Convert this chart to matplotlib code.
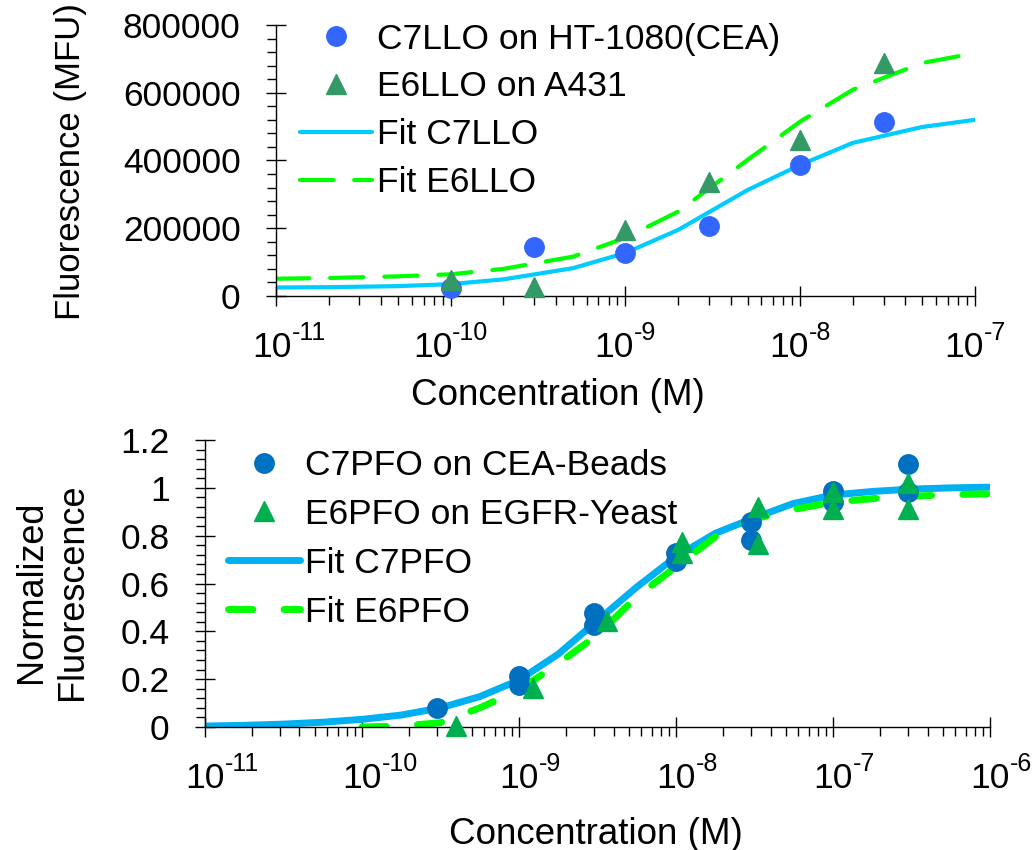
import matplotlib
matplotlib.use('Agg')
import matplotlib.pyplot as plt
from matplotlib.ticker import MultipleLocator, FuncFormatter, LogLocator, NullFormatter

plt.rcParams['font.family'] = ['Liberation Sans', 'DejaVu Sans']
plt.rcParams['axes.unicode_minus'] = False
plt.rcParams['font.size'] = 25.5

# ---- top panel data (LLO) ----
llo_conc = [1e-10, 3e-10, 1e-9, 3e-9, 1e-8, 3e-8]
c7llo_mfu = [24000, 145000, 127000, 207000, 387000, 514000]
e6llo_mfu = [47000, 26000, 195000, 337000, 461000, 689000]

llo_fit_conc = [1e-11, 2e-11, 5e-11, 1e-10, 2e-10, 5e-10, 1e-9, 2e-9, 5e-9,
                1e-8, 2e-8, 5e-8, 1e-7]
c7llo_fit = [25000, 26000, 29000, 35000, 49000, 82000, 127000, 195000, 313000,
             387000, 452000, 499000, 520000]
e6llo_fit = [51000, 53000, 58000, 64000, 80000, 116000, 172000, 249000, 402000,
             515000, 609000, 688000, 717000]

# ---- bottom panel data (PFO) ----
c7pfo_conc = [3e-10, 1e-9, 1e-9, 3e-9, 3e-9, 1e-8, 1e-8, 3e-8, 3e-8, 1e-7, 1e-7, 3e-7, 3e-7]
c7pfo_norm = [0.078, 0.215, 0.175, 0.476, 0.428, 0.728, 0.695, 0.858, 0.780, 0.985, 0.940, 1.100, 0.981]
e6pfo_conc = [4e-10, 1.23e-9, 3.66e-9, 1.1e-8, 1.1e-8, 3.33e-8, 3.33e-8, 1e-7, 1e-7, 3e-7, 3e-7]
e6pfo_norm = [0.006, 0.162, 0.444, 0.775, 0.726, 0.920, 0.765, 0.982, 0.911, 1.020, 0.910]

c7pfo_fit_conc = [1e-11, 1.78e-11, 3.16e-11, 5.62e-11, 1e-10, 1.78e-10, 3.16e-10, 5.62e-10,
                  1e-9, 1.78e-9, 3.16e-9, 5.62e-9, 1e-8, 1.78e-8, 3.16e-8, 5.62e-8,
                  1e-7, 1.78e-7, 3.16e-7, 5.62e-7, 1e-6]
c7pfo_fit = [0.004, 0.007, 0.012, 0.020, 0.032, 0.050, 0.080, 0.127,
             0.196, 0.305, 0.445, 0.585, 0.712, 0.810, 0.875, 0.935,
             0.970, 0.985, 0.995, 1.000, 1.003]
e6pfo_fit_conc = [1e-10, 1.78e-10, 3.16e-10, 5.62e-10, 1e-9, 1.78e-9, 3.16e-9, 5.62e-9,
                  1e-8, 1.78e-8, 3.16e-8, 5.62e-8, 1e-7, 1.78e-7, 3.16e-7, 5.62e-7, 1e-6]
e6pfo_fit = [0.000, 0.004, 0.018, 0.080, 0.155, 0.265, 0.385, 0.545,
             0.670, 0.795, 0.870, 0.910, 0.940, 0.955, 0.965, 0.972, 0.975]

# decade tick labels (exponents)
top_exps = [-11, -10, -9, -8, -7]
bottom_exps = [-11, -10, -9, -8, -7, -6]


def style_axis(ax):
    ax.spines['top'].set_visible(False)
    ax.spines['right'].set_visible(False)
    ax.spines['left'].set_linewidth(1)
    ax.spines['bottom'].set_linewidth(1)
    ax.tick_params(which='major', direction='inout', length=15, width=1)
    ax.tick_params(which='minor', direction='out', length=6.5, width=1)
    ax.tick_params(axis='y', which='major', pad=18)
    ax.xaxis.set_minor_locator(LogLocator(base=10, subs=range(2, 10), numticks=20))
    ax.xaxis.set_minor_formatter(NullFormatter())
    ax.xaxis.set_major_formatter(NullFormatter())


def decade_labels(ax, exps, center_whole, first_shift=0):
    # "10" with a raised exponent, drawn as two texts like the original
    ren = fig.canvas.get_renderer()
    trans = ax.get_xaxis_transform()
    for i, e in enumerate(exps):
        base = ax.annotate('10', xy=(10.0 ** e, 0), xycoords=trans, xytext=(0, -61),
                           textcoords='offset pixels', ha='center', va='baseline',
                           fontsize=25.5, annotation_clip=False)
        sup = ax.annotate(f'{e}', xy=(10.0 ** e, 0), xycoords=trans, xytext=(0, -44),
                          textcoords='offset pixels', ha='left', va='baseline',
                          fontsize=18, annotation_clip=False)
        w1 = base.get_window_extent(ren).width
        w2 = sup.get_window_extent(ren).width
        shift = -w2 / 2 if center_whole else 0
        if i == 0:
            shift += first_shift
        base.xyann = (shift, -61)
        sup.xyann = (shift + w1 / 2, -44)


fig = plt.figure(figsize=(10.32, 8.5), dpi=100)

# top panel
ax1 = fig.add_axes([0.2674, 0.6518, 0.6774, 0.3188])
ax1.plot(llo_fit_conc, c7llo_fit, color='#00ccff', lw=3, label='Fit C7LLO',
         solid_capstyle='round', zorder=2)
ax1.plot(llo_fit_conc, e6llo_fit, color='#00ff00', lw=3, dashes=(8, 5),
         dash_capstyle='round', label='Fit E6LLO', zorder=2)
ax1.plot(llo_conc, c7llo_mfu, 'o', color='#3366ff', ms=14, ls='none',
         label='C7LLO on HT-1080(CEA)', clip_on=False, zorder=3)
ax1.plot(llo_conc, e6llo_mfu, '^', color='#339966', ms=14, ls='none',
         label='E6LLO on A431', clip_on=False, zorder=3)
ax1.set_xscale('log')
ax1.set_xlim(1e-11, 1e-7)
ax1.set_ylim(0, 800000)
ax1.yaxis.set_major_locator(MultipleLocator(200000))
ax1.yaxis.set_minor_locator(MultipleLocator(40000))
style_axis(ax1)
ax1.set_xlabel('Concentration (M)', fontsize=26.5)
ax1.xaxis.set_label_coords(0.4027, -0.3026)
ax1.set_ylabel('Fluorescence (MFU)', fontsize=25)
ax1.yaxis.set_label_coords(-0.2704, 0.495)
h, l = ax1.get_legend_handles_labels()
order = [2, 3, 0, 1]
ax1.legend([h[i] for i in order], [l[i] for i in order], loc='upper left',
           bbox_to_anchor=(0.034, 1.009), frameon=False, borderpad=0,
           borderaxespad=0, handlelength=2.03, handletextpad=0.15,
           labelspacing=0.42, numpoints=1)

# bottom panel
ax2 = fig.add_axes([0.1986, 0.1447, 0.7607, 0.3376])
ax2.plot(c7pfo_fit_conc, c7pfo_fit, color='#00b0f0', lw=5, label='Fit C7PFO',
         solid_capstyle='round', zorder=2)
ax2.plot(e6pfo_fit_conc, e6pfo_fit, color='#00ff00', lw=5, dashes=(3.5, 4.5),
         dash_capstyle='round', label='Fit E6PFO', zorder=2)
ax2.plot(c7pfo_conc, c7pfo_norm, 'o', color='#0070c0', ms=14, ls='none',
         label='C7PFO on CEA-Beads', clip_on=False, zorder=3)
ax2.plot(e6pfo_conc, e6pfo_norm, '^', color='#00b050', ms=14, ls='none',
         label='E6PFO on EGFR-Yeast', clip_on=False, zorder=3)
ax2.set_xscale('log')
ax2.set_xlim(1e-11, 1e-6)
ax2.set_ylim(0, 1.2)
ax2.yaxis.set_major_locator(MultipleLocator(0.2))
ax2.yaxis.set_minor_locator(MultipleLocator(0.04))
ax2.yaxis.set_major_formatter(FuncFormatter(lambda v, p: f'{v:g}'))
style_axis(ax2)
ax2.set_xlabel('Concentration (M)', fontsize=26.5)
ax2.xaxis.set_label_coords(0.498, -0.3136)
ax2.set_ylabel('Normalized\nFluorescence', fontsize=26)
ax2.yaxis.set_label_coords(-0.147, 0.470)
h, l = ax2.get_legend_handles_labels()
ax2.legend([h[i] for i in order], [l[i] for i in order], loc='upper left',
           bbox_to_anchor=(0.029, 0.969), frameon=False, borderpad=0,
           borderaxespad=0, handlelength=2.03, handletextpad=0.15,
           labelspacing=0.45, numpoints=1)

fig.canvas.draw()
decade_labels(ax1, top_exps, center_whole=True, first_shift=13)
decade_labels(ax2, bottom_exps, center_whole=False)

fig.savefig('out.png', dpi=100)
